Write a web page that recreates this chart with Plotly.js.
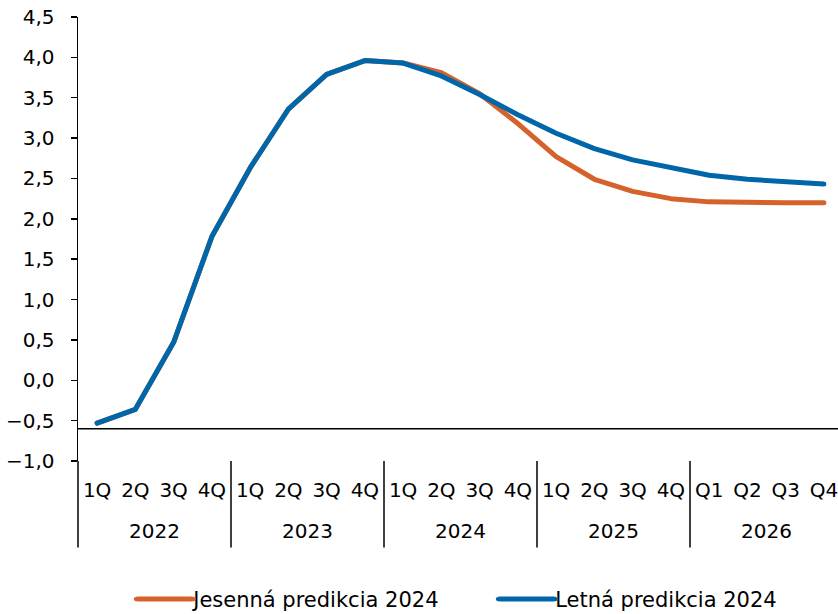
<!DOCTYPE html>
<html>
<head>
<meta charset="utf-8">
<script src="https://cdn.plot.ly/plotly-3.0.1.min.js"></script>
<style>
  html, body { margin: 0; padding: 0; overflow: hidden; background: #fff; }
  #chart { width: 843px; height: 614px; }
  .js-line { stroke-linecap: round; stroke-linejoin: round; }
  /* longer legend swatches, with the label moved along to follow them */
  .legend .legendlines path { transform: translateX(-3.83px) scaleX(1.767); }
  .legend .legendtext { transform: translateX(20px); }
</style>
</head>
<body>
<div id="chart"></div>
<script>
// Quarterly labels per year and the year groups they belong to
const years = ['2022', '2023', '2024', '2025', '2026'];
const quarterLabels = ['1Q', '2Q', '3Q', '4Q'];
const quarterLabelsLast = ['Q1', 'Q2', 'Q3', 'Q4'];

// Forecast series (%)
const autumnForecast = [-0.53, -0.36, 0.47, 1.78, 2.63, 3.36, 3.79, 3.96, 3.93, 3.81,
                        3.55, 3.18, 2.77, 2.49, 2.34, 2.25, 2.21, 2.20, 2.20, 2.20];
const summerForecast = [-0.53, -0.36, 0.47, 1.78, 2.63, 3.36, 3.79, 3.96, 3.93, 3.77,
                        3.54, 3.29, 3.06, 2.87, 2.73, 2.63, 2.54, 2.49, 2.46, 2.43];

const seriesNames = ['Jesenná predikcia 2024', 'Letná predikcia 2024'];
const seriesColors = ['#D4622A', '#0066AA'];

// Value where the category axis crosses the value axis
const axisCross = -0.6;

// Flatten quarters into positions along the x axis, remembering year groups
const tickText = [];
const groups = [];
years.forEach((y, i) => {
  const q = (i === years.length - 1) ? quarterLabelsLast : quarterLabels;
  groups.push({ year: y, start: tickText.length, count: q.length });
  q.forEach(lbl => tickText.push(lbl));
});
const xIdx = tickText.map((_, i) => i);
const xRange = [-0.5, tickText.length - 0.5];
const toPaper = v => (v - xRange[0]) / (xRange[1] - xRange[0]);

const font = { family: 'Verdana, "DejaVu Sans", sans-serif', size: 20, color: '#000' };

const traces = [autumnForecast, summerForecast].map((vals, i) => ({
  type: 'scatter',
  mode: 'lines',
  x: xIdx,
  y: vals,
  name: seriesNames[i],
  line: { color: seriesColors[i], width: 5 },
  hoverinfo: 'skip'
}));

// Year labels under each group of quarters
const annotations = groups.map(g => ({
  xref: 'x', yref: 'paper',
  x: g.start + (g.count - 1) / 2,
  y: -0.158,
  yanchor: 'middle',
  text: g.year,
  showarrow: false,
  font: font
}));

// Group dividers running down through the label rows
const shapes = groups.map(g => ({
  type: 'line',
  xref: 'paper', yref: 'paper',
  x0: toPaper(g.start - 0.5), x1: toPaper(g.start - 0.5),
  y0: 0, y1: -0.195,
  line: { color: '#000', width: 1.5 }
}));
shapes.push({
  type: 'line',
  xref: 'paper', yref: 'y',
  x0: 0, x1: 1,
  y0: axisCross, y1: axisCross,
  line: { color: '#000', width: 1.5 },
  layer: 'below'
});

const layout = {
  width: 843,
  height: 614,
  margin: { l: 78, r: 0, t: 17, b: 153, autoexpand: false },
  paper_bgcolor: '#fff',
  plot_bgcolor: '#fff',
  separators: ', ',
  font: font,
  showlegend: true,
  legend: {
    orientation: 'h',
    x: 0.0722,
    xanchor: 'left',
    yref: 'container',
    y: 0.024,
    yanchor: 'middle',
    font: { family: font.family, size: 21, color: '#000' },
    entrywidth: 317
  },
  xaxis: {
    range: xRange,
    tickmode: 'array',
    tickvals: xIdx,
    ticktext: tickText,
    showline: false,
    showgrid: false,
    zeroline: false,
    ticks: '',
    ticklabelstandoff: 15,
    tickfont: font,
    automargin: false,
    fixedrange: true
  },
  yaxis: {
    range: [-1, 4.5],
    dtick: 0.5,
    tick0: 0,
    tickformat: '.1f',
    showline: true,
    linecolor: '#000',
    linewidth: 1.5,
    ticks: 'outside',
    ticklen: 6,
    tickwidth: 1.5,
    tickcolor: '#000',
    ticklabelstandoff: 12,
    showgrid: false,
    zeroline: false,
    tickfont: font,
    automargin: false,
    fixedrange: true
  },
  annotations: annotations,
  shapes: shapes
};

Plotly.newPlot('chart', traces, layout, { displayModeBar: false, staticPlot: true });
</script>
</body>
</html>
